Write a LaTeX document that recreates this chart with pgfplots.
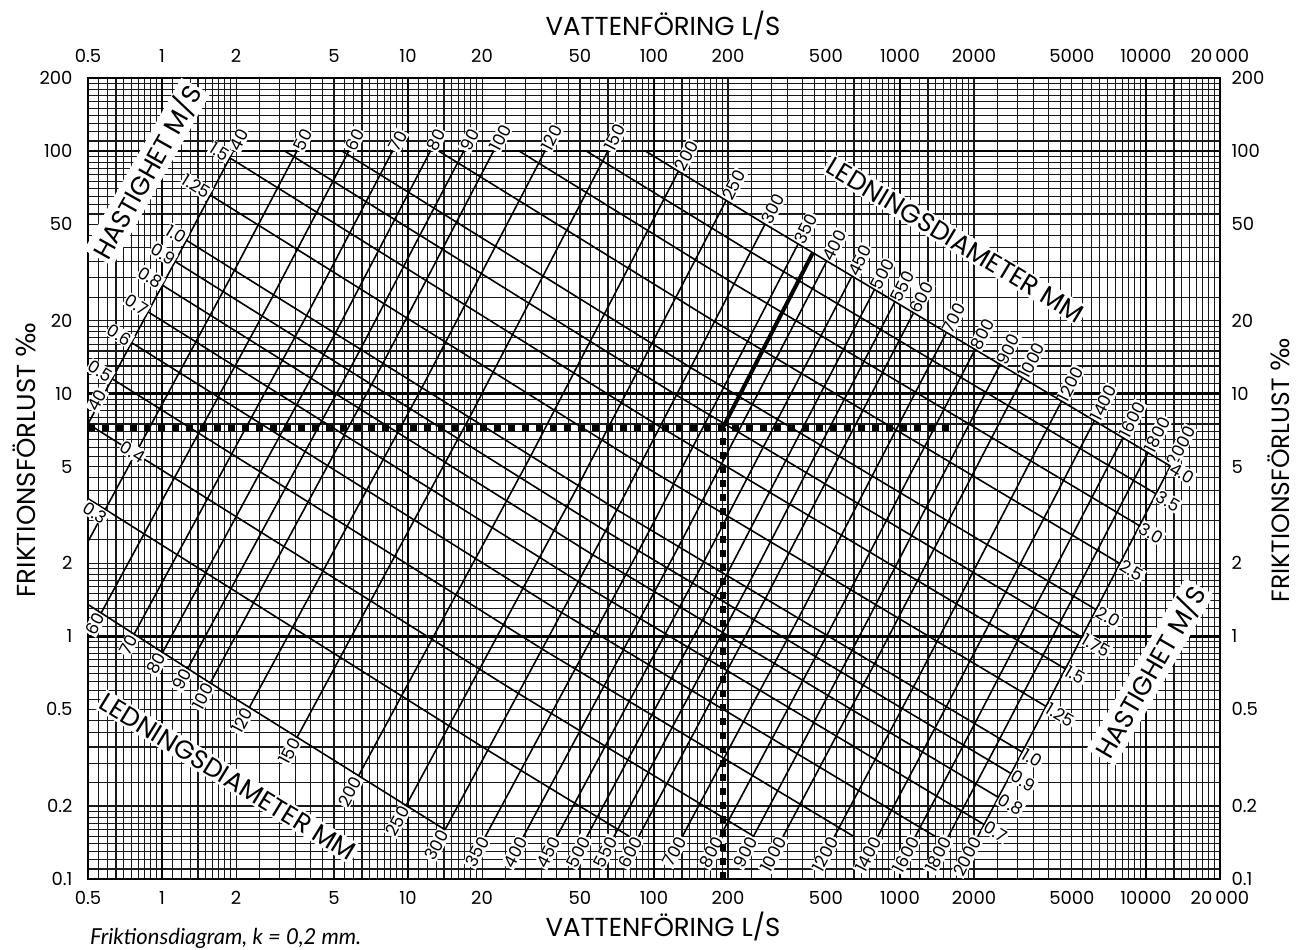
\documentclass[border=0pt]{standalone}
\usepackage{fontspec}
\setmainfont{Poppins}
\newfontfamily\capfont{Lato}
\newfontfamily\symfont{DejaVu Sans}
\usepackage{pgfplots}
\pgfplotsset{compat=1.18}

\newcommand\fsz[1]{\fontsize{#1bp}{#1bp}\selectfont}

\pgfplotsset{
  every axis/.append style={
    xmode=log, ymode=log,
    xmin=0.5, xmax=20000, ymin=0.1, ymax=200,
    scale only axis, width=1132bp, height=801bp,
    at={(88bp,71bp)}, anchor=south west,
    major tick length=0pt, minor tick length=0pt,
    xtick={0.5,1,2,5,10,20,50,100,200,500,1000,2000,5000,10000,20000},
    xticklabels={0.5,1,2,5,10,20,50,100,200,500,1000,2000,5000,10000,20\,000},
    ytick={0.1,0.2,0.5,1,2,5,10,20,50,100,200},
    yticklabels={0.1,0.2,0.5,1,2,5,10,20,50,100,200},
    tick label style={font=\fsz{18}},
  },
}
\tikzset{
  net/.style={black, line width=1.6bp},
  lab/.style={font=\fsz{17}, fill=white, inner sep=1bp, sloped},
}

\begin{document}
\begin{tikzpicture}
\path[use as bounding box] (0,0) rectangle (1298bp,950bp);

\begin{axis}[clip=false,
  grid=both,
  minor xtick={0.55,0.6,0.65,0.7,0.75,0.8,0.85,0.9,0.95,
    1.1,1.2,1.3,1.4,1.5,1.6,1.7,1.8,1.9,2.5,3,3.5,4,4.5,5.5,6,6.5,7,7.5,8,8.5,9,9.5,
    11,12,13,14,15,16,17,18,19,25,30,35,40,45,55,60,65,70,75,80,85,90,95,
    110,120,130,140,150,160,170,180,190,250,300,350,400,450,550,600,650,700,750,800,850,900,950,
    1100,1200,1300,1400,1500,1600,1700,1800,1900,2500,3000,3500,4000,4500,5500,6000,6500,7000,7500,8000,8500,9000,9500,
    11000,12000,13000,14000,15000,16000,17000,18000,19000},
  minor ytick={0.11,0.12,0.13,0.14,0.15,0.16,0.17,0.18,0.19,0.25,0.3,0.35,0.4,0.45,0.55,0.6,0.65,0.7,0.75,0.8,0.85,0.9,0.95,
    1.1,1.2,1.3,1.4,1.5,1.6,1.7,1.8,1.9,2.5,3,3.5,4,4.5,5.5,6,6.5,7,7.5,8,8.5,9,9.5,
    11,12,13,14,15,16,17,18,19,25,30,35,40,45,55,60,65,70,75,80,85,90,95,
    110,120,130,140,150,160,170,180,190},
  major grid style={black!90, line width=1.1bp},
  minor grid style={black!90, line width=1.1bp},
  extra x ticks={1,10,100,1000,10000}, extra x tick labels={},
  extra y ticks={1,10,100}, extra y tick labels={},
  extra tick style={grid=major, major grid style={black, line width=2.6bp}},
  axis line style={black, line width=1.8bp},
  xticklabel style={yshift=-9bp},
  yticklabel style={xshift=-12bp},
]

% ledningsdiameter (mm): Q [l/s], J [promille]
\addplot[net] coordinates {(0.5,7.51) (1.257,42.87) (1.949,100)} node[lab,pos=1,anchor=west]{40};
\addplot[net] coordinates {(0.5,2.459) (1.963,32.04) (3.535,100)} node[lab,pos=1,anchor=west]{50};
\addplot[net] coordinates {(0.5655,1.248) (2.827,25.31) (5.742,100)} node[lab,pos=0,anchor=east]{60} node[lab,pos=1,anchor=west]{60};
\addplot[net] coordinates {(0.7697,1.02) (3.848,20.75) (8.65,100)} node[lab,pos=0,anchor=east]{70} node[lab,pos=1,anchor=west]{70};
\addplot[net] coordinates {(1.005,0.8576) (5.027,17.48) (12.33,100)} node[lab,pos=0,anchor=east]{80} node[lab,pos=1,anchor=west]{80};
\addplot[net] coordinates {(1.272,0.7362) (6.362,15.04) (16.85,100)} node[lab,pos=0,anchor=east]{90} node[lab,pos=1,anchor=west]{90};
\addplot[net] coordinates {(1.571,0.6424) (7.854,13.16) (22.26,100)} node[lab,pos=0,anchor=east]{100} node[lab,pos=1,anchor=west]{100};
\addplot[net] coordinates {(2.262,0.5083) (11.31,10.44) (36.05,100)} node[lab,pos=0,anchor=east]{120} node[lab,pos=1,anchor=west]{120};
\addplot[net] coordinates {(3.534,0.3823) (17.67,7.88) (64.94,100)} node[lab,pos=0,anchor=east]{150} node[lab,pos=1,anchor=west]{150};
\addplot[net] coordinates {(6.283,0.2656) (31.42,5.497) (125.66,82.53)} node[lab,pos=0,anchor=east]{200} node[lab,pos=1,anchor=west]{200};
\addplot[net] coordinates {(9.817,0.2005) (49.09,4.165) (196.35,62.56)} node[lab,pos=0,anchor=east]{250} node[lab,pos=1,anchor=west]{250};
\addplot[net] coordinates {(14.14,0.1596) (70.69,3.323) (282.74,49.96)} node[lab,pos=0,anchor=east]{300} node[lab,pos=1,anchor=west]{300};
\addplot[net] coordinates {(20.64,0.15) (96.21,2.748) (384.85,41.31)} node[lab,pos=0,anchor=east]{350} node[lab,pos=1,anchor=west]{350};
\addplot[net] coordinates {(29.49,0.15) (125.66,2.333) (502.65,35.07)} node[lab,pos=0,anchor=east]{400} node[lab,pos=1,anchor=west]{400};
\addplot[net] coordinates {(40.35,0.15) (159.04,2.0195) (636.17,30.37)} node[lab,pos=0,anchor=east]{450} node[lab,pos=1,anchor=west]{450};
\addplot[net] coordinates {(53.43,0.15) (196.35,1.775) (785.4,26.7)} node[lab,pos=0,anchor=east]{500} node[lab,pos=1,anchor=west]{500};
\addplot[net] coordinates {(68.83,0.15) (237.58,1.58) (950.3,23.78)} node[lab,pos=0,anchor=east]{550} node[lab,pos=1,anchor=west]{550};
\addplot[net] coordinates {(86.74,0.15) (282.74,1.421) (1131,21.39)} node[lab,pos=0,anchor=east]{600} node[lab,pos=1,anchor=west]{600};
\addplot[net] coordinates {(130.5,0.15) (384.85,1.178) (1539.4,17.74)} node[lab,pos=0,anchor=east]{700} node[lab,pos=1,anchor=west]{700};
\addplot[net] coordinates {(185.9,0.15) (502.65,1.002) (2010.6,15.1)} node[lab,pos=0,anchor=east]{800} node[lab,pos=1,anchor=west]{800};
\addplot[net] coordinates {(253.8,0.15) (636.17,0.8693) (2544.7,13.09)} node[lab,pos=0,anchor=east]{900} node[lab,pos=1,anchor=west]{900};
\addplot[net] coordinates {(335.1,0.15) (785.4,0.7656) (3141.6,11.53)} node[lab,pos=0,anchor=east]{1000} node[lab,pos=1,anchor=west]{1000};
\addplot[net] coordinates {(542,0.15) (1131,0.6146) (4523.9,9.263)} node[lab,pos=0,anchor=east]{1200} node[lab,pos=1,anchor=west]{1200};
\addplot[net] coordinates {(813.1,0.15) (1539.4,0.5108) (6157.5,7.7)} node[lab,pos=0,anchor=east]{1400} node[lab,pos=1,anchor=west]{1400};
\addplot[net] coordinates {(1155,0.15) (2010.6,0.4355) (8042.5,6.565)} node[lab,pos=0,anchor=east]{1600} node[lab,pos=1,anchor=west]{1600};
\addplot[net] coordinates {(1573,0.15) (2544.7,0.3783) (10179,5.704)} node[lab,pos=0,anchor=east]{1800} node[lab,pos=1,anchor=west]{1800};
\addplot[net] coordinates {(2074,0.15) (3141.6,0.3336) (12566,5.032)} node[lab,pos=0,anchor=east]{2000} node[lab,pos=1,anchor=west]{2000};

% hastighet (m/s)
\addplot[net] coordinates {(0.5,1.353) (1.571,0.6424) (14.14,0.1596)};
\addplot[net] coordinates {(0.5,3.697) (21.21,0.3382) (79.26,0.15)} node[lab,pos=0,anchor=north west]{0.3};
\addplot[net] coordinates {(0.5,7.51) (28.27,0.5796) (254.5,0.15)};
\addplot[net] coordinates {(0.6283,11.5) (35.34,0.883) (646.9,0.15)} node[lab,pos=0,anchor=east]{0.5};
\addplot[net] coordinates {(0.754,16.21) (42.41,1.248) (1386.8,0.15)} node[lab,pos=0,anchor=east]{0.6};
\addplot[net] coordinates {(0.8796,21.7) (49.48,1.676) (2199,0.1677)} node[lab,pos=0,anchor=east]{0.7} node[lab,pos=1,anchor=west]{0.7};
\addplot[net] coordinates {(1.0053,27.97) (56.55,2.164) (2513,0.2169)} node[lab,pos=0,anchor=east]{0.8} node[lab,pos=1,anchor=west]{0.8};
\addplot[net] coordinates {(1.131,35.03) (63.62,2.714) (2827,0.2721)} node[lab,pos=0,anchor=east]{0.9} node[lab,pos=1,anchor=west]{0.9};
\addplot[net] coordinates {(1.2566,42.87) (70.69,3.323) (3141.6,0.3336)} node[lab,pos=0,anchor=east]{1.0} node[lab,pos=1,anchor=west]{1.0};
\addplot[net] coordinates {(1.5708,65.86) (88.36,5.118) (3927,0.5141)} node[lab,pos=0,anchor=east]{1.25} node[lab,pos=1,anchor=west]{1.25};
\addplot[net] coordinates {(1.885,93.75) (106.03,7.294) (4712,0.7334)} node[lab,pos=0,anchor=east]{1.5} node[lab,pos=1,anchor=west]{1.5};
\addplot[net] coordinates {(3.154,100) (123.7,9.85) (5498,0.9904)} node[lab,pos=1,anchor=west]{1.75};
\addplot[net] coordinates {(5.394,100) (141.4,12.78) (6283,1.2865)} node[lab,pos=1,anchor=west]{2.0};
\addplot[net] coordinates {(13.33,100) (176.7,19.8) (7854,1.9926)} node[lab,pos=1,anchor=west]{2.5};
\addplot[net] coordinates {(28.3,100) (212.1,28.33) (9425,2.853)} node[lab,pos=1,anchor=west]{3.0};
\addplot[net] coordinates {(53.03,100) (247.4,38.38) (10996,3.865)} node[lab,pos=1,anchor=west]{3.5};
\addplot[net] coordinates {(92.3,100) (125.66,82.53) (282.74,49.96) (12566,5.032)} node[lab,pos=1,anchor=west]{4.0};

% exempel
\addplot[black, line width=6bp, dash pattern=on 7bp off 7bp] coordinates {(0.5,7.2) (1600,7.2)};
\addplot[black, line width=6bp, dash pattern=on 7bp off 7bp] coordinates {(190,0.1) (190,7.2)};
\addplot[black, line width=4bp] coordinates {(190,7.2) (441.8,37.97)};

\node[font=\fsz{17}, fill=white, inner sep=1bp, rotate=62] at (axis cs:0.545,9.4) {40};
\node[font=\fsz{17}, fill=white, inner sep=1bp, rotate=-31] at (axis cs:0.76,5.75) {0.4};
\end{axis}

\begin{axis}[axis x line*=top, axis y line*=right,
  axis line style={draw=none},
  xticklabel style={yshift=12bp}, yticklabel style={xshift=8bp}]
\addplot[draw=none] coordinates {(1,1)};
\end{axis}

\node[font=\fsz{26}, fill=white, inner sep=2bp, rotate=60.5] at (147bp,778bp) {HASTIGHET M/S};
\node[font=\fsz{26}, fill=white, inner sep=2bp, rotate=60] at (1150bp,278bp) {HASTIGHET M/S};
\node[font=\fsz{26}, fill=white, inner sep=2bp, rotate=-31] at (955bp,710bp) {LEDNINGSDIAMETER MM};
\node[font=\fsz{26}, fill=white, inner sep=2bp, rotate=-31.5] at (228bp,173bp) {LEDNINGSDIAMETER MM};

\node[font=\fsz{26}, inner sep=0pt] at (663bp,925bp) {VATTENFÖRING L/S};
\node[font=\fsz{26}, inner sep=0pt] at (663bp,24bp) {VATTENFÖRING L/S};
\node[font=\fsz{26}, rotate=90, inner sep=0pt] at (24bp,490bp) {FRIKTIONSFÖRLUST {\symfont ‰}};
\node[font=\fsz{25}, rotate=90, inner sep=0pt] at (1279bp,480bp) {FRIKTIONSFÖRLUST {\symfont ‰}};
\node[font={\capfont\itshape\fsz{22}}, anchor=west, inner sep=0pt] at (90bp,12bp) {Friktionsdiagram, k = 0,2 mm.};
\end{tikzpicture}
\end{document}
